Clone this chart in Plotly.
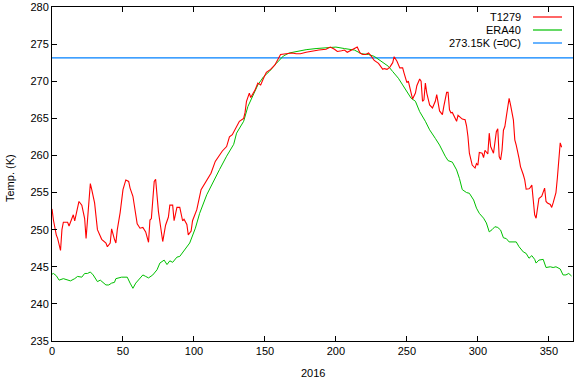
import plotly.graph_objects as go

# T1279 series (day of year, temperature K)
t1279_day = [0, 1, 3, 4, 6, 7, 8, 11, 12, 15, 16, 19, 21, 23, 24, 25, 27, 28, 30, 32, 35, 38, 39, 41, 42, 44, 45, 46, 48, 50,
             52, 54, 55, 57, 59, 60, 62, 64, 66, 68, 69, 70, 72, 73, 75, 76, 78, 80, 82, 83, 85, 86, 88, 90, 92, 93, 95, 96, 98, 99,
             102, 105, 109, 112, 115, 118, 120, 123, 125, 127, 129, 132, 135, 136, 137, 139, 140, 143, 145, 147, 149, 151, 154, 157, 159, 161, 165, 169, 172, 175,
             179, 184, 188, 193, 196, 199, 201, 204, 206, 208, 211, 213, 215, 217, 219, 221, 223, 225, 227, 230, 231, 233, 234, 236, 238, 240, 241, 243, 245, 247,
             248, 250, 251, 253, 254, 256, 257, 259, 260, 261, 262, 263, 264, 266, 268, 270, 271, 273, 275, 276, 278, 279, 280, 281, 282, 285, 286, 289, 291, 292,
             293, 294, 296, 298, 299, 300, 301, 303, 304, 305, 307, 308, 309, 311, 312, 313, 314, 315, 316, 317, 318, 319, 320, 321, 322, 323, 325, 326, 327, 329,
             330, 332, 333, 334, 336, 337, 338, 339, 340, 341, 342, 343, 345, 346, 347, 348, 349, 351, 352, 353, 355, 356, 357, 358, 359]
t1279_temp = [252.8, 251.3, 249.3, 248.8, 247.2, 250.0, 251.0, 251.0, 250.5, 252.0, 251.2, 253.8, 253.3, 251.5, 248.8, 251.7, 256.2, 255.4, 253.6, 250.0, 248.7, 248.2, 247.7, 248.2, 250.1, 248.7, 248.2, 250.0, 252.3, 255.4,
              256.7, 256.5, 255.6, 254.5, 252.2, 250.8, 250.2, 250.3, 249.7, 248.3, 251.3, 251.5, 256.5, 256.8, 252.4, 251.2, 248.4, 250.6, 251.7, 253.3, 253.3, 251.2, 253.0, 253.0, 251.2, 251.4, 250.7, 249.3, 249.8, 251.2,
              252.7, 255.4, 256.7, 257.6, 259.2, 260.1, 260.6, 261.2, 262.5, 262.8, 263.5, 264.6, 265.0, 265.8, 267.3, 268.4, 267.8, 268.8, 269.75, 269.5, 270.4, 271.2, 271.6, 272.2, 272.9, 273.6, 273.7, 273.8, 273.7, 273.7,
              273.9, 274.1, 274.2, 274.3, 274.6, 274.3, 274.0, 274.1, 274.2, 273.9, 274.2, 274.5, 274.6, 273.8, 273.6, 273.6, 273.8, 273.35, 272.8, 272.4, 272.1, 271.6, 271.7, 271.6, 271.9, 272.5, 273.3, 272.7, 271.8, 271.8,
              271.1, 269.8, 270.0, 268.6, 267.6, 268.4, 269.4, 270.3, 270.0, 267.3, 267.5, 269.75, 268.4, 266.8, 266.4, 267.3, 268.2, 266.0, 265.5, 266.6, 268.5, 268.5, 266.15, 265.75, 265.8, 264.6, 265.4, 264.9, 264.8, 264.0,
              262.55, 260.3, 258.7, 258.3, 258.9, 258.7, 260.4, 260.3, 259.7, 260.7, 260.2, 263.0, 261.2, 260.3, 261.7, 263.2, 263.6, 259.85, 259.4, 260.7, 263.4, 263.9, 265.2, 266.8, 267.7, 266.8, 264.8, 262.1, 261.4, 259.6,
              258.5, 257.4, 256.7, 255.45, 255.5, 255.7, 256.0, 254.0, 252.0, 251.55, 253.1, 254.2, 254.5, 255.1, 255.6, 253.8, 253.6, 253.4, 253.0, 253.6, 255.0, 257.0, 260.0, 261.7, 261.1]

# ERA40 series
era40_day = [0, 1, 3, 5, 8, 10, 13, 16, 18, 21, 23, 25, 27, 29, 32, 34, 36, 38, 40, 42, 44, 45, 49, 53, 55, 57, 59, 62, 64, 66,
             68, 71, 74, 76, 79, 81, 83, 85, 88, 90, 94, 97, 101, 104, 109, 113, 118, 123, 125, 128, 130, 135, 138, 142, 145, 149, 153, 158, 163, 167,
             172, 179, 186, 193, 200, 206, 213, 218, 223, 227, 232, 237, 240, 244, 247, 251, 253, 256, 259, 263, 266, 270, 273, 277, 279, 282, 285, 287, 289, 292,
             294, 297, 299, 301, 304, 306, 308, 310, 312, 314, 316, 318, 320, 322, 327, 329, 332, 334, 336, 338, 340, 341, 343, 346, 348, 351, 353, 355, 358, 360,
             362, 364, 366]
era40_temp = [244.0, 244.1, 243.8, 243.2, 243.4, 243.3, 243.1, 243.4, 243.7, 243.6, 244.1, 244.1, 244.3, 243.9, 243.0, 243.2, 242.9, 242.55, 242.55, 242.8, 242.9, 243.4, 243.6, 243.6, 242.8, 242.1, 242.8, 243.4, 243.9, 243.7,
              243.5, 243.9, 244.6, 245.5, 245.9, 245.3, 245.8, 245.6, 246.3, 246.4, 247.5, 248.2, 250.2, 252.2, 254.7, 256.3, 258.1, 259.9, 260.6, 261.5, 263.0, 264.6, 266.6, 268.2, 269.5, 270.6, 271.3, 272.4, 273.4, 273.8,
              274.0, 274.25, 274.4, 274.5, 274.6, 274.4, 274.2, 273.7, 273.6, 273.35, 272.7, 272.0, 271.3, 270.4, 269.5, 268.4, 267.7, 267.3, 265.9, 264.6, 263.45, 262.3, 261.4, 259.9, 259.3, 259.1, 258.05, 256.9, 255.4, 255.0,
              254.9, 254.0, 252.9, 252.2, 251.55, 250.9, 249.7, 250.0, 250.4, 250.3, 249.95, 248.9, 248.8, 248.35, 248.35, 247.7, 247.0, 246.8, 246.15, 246.5, 246.0, 245.5, 245.9, 246.0, 244.9, 245.0, 244.9, 245.0, 244.7, 243.9,
              243.9, 244.1, 243.75]

freeze_day = [0, 367]
freeze_temp = [273.15, 273.15]

x_ticks = [0, 50, 100, 150, 200, 250, 300, 350]
y_ticks = [235, 240, 245, 250, 255, 260, 265, 270, 275, 280]

RED = "#ff0000"
GREEN = "#00c000"
BLUE = "#0080ff"
FONT = "Liberation Sans"

W, H = 577, 380
ML, MR, MT, MB = 52, 4, 7, 39
PW, PH = W - ML - MR, H - MT - MB

fig = go.Figure()
fig.add_trace(go.Scatter(x=freeze_day, y=freeze_temp, mode="lines", line=dict(color=BLUE, width=1.2), name="273.15K (=0C)"))
fig.add_trace(go.Scatter(x=era40_day, y=era40_temp, mode="lines", line=dict(color=GREEN, width=1), name="ERA40"))
fig.add_trace(go.Scatter(x=t1279_day, y=t1279_temp, mode="lines", line=dict(color=RED, width=1.1), name="T1279"))

axis_common = dict(
    showgrid=False, zeroline=False, showline=True, linecolor="black", linewidth=1,
    mirror="allticks", ticks="inside", ticklen=5, tickcolor="black", tickwidth=1,
    tickfont=dict(family=FONT, size=11, color="black"), automargin=False,
)
fig.update_xaxes(range=[0, 367], tickvals=x_ticks, ticktext=[str(v) for v in x_ticks], **axis_common)
fig.update_yaxes(range=[235, 280], tickvals=y_ticks, ticktext=[str(v) for v in y_ticks], **axis_common)

# axis titles
fig.add_annotation(xref="paper", yref="paper", x=0.5, y=-(373 - (H - MB)) / PH, text="2016", showarrow=False,
                   xanchor="center", yanchor="middle", font=dict(family=FONT, size=11, color="black"))
fig.add_annotation(xref="paper", yref="paper", x=-(ML - 10) / PW, y=1 - (178 - MT) / PH, text="Temp. (K)", showarrow=False,
                   textangle=-90, xanchor="center", yanchor="middle", font=dict(family=FONT, size=11, color="black"))

# gnuplot-style legend: right-aligned text with line sample on its right
legend_items = [("T1279", RED), ("ERA40", GREEN), ("273.15K (=0C)", BLUE)]
for i, (label, color) in enumerate(legend_items):
    yy = 1 - (10 + 13 * i) / PH
    fig.add_annotation(xref="paper", yref="paper", x=(523 - ML) / PW, y=yy, text=label, showarrow=False,
                       xanchor="right", yanchor="middle", font=dict(family=FONT, size=11, color="black"))
    fig.add_shape(type="line", xref="paper", yref="paper", x0=(533 - ML) / PW, x1=(562 - ML) / PW,
                  y0=yy, y1=yy, line=dict(color=color, width=1.2))

fig.update_layout(
    width=W, height=H, showlegend=False,
    margin=dict(l=ML, r=MR, t=MT, b=MB, autoexpand=False),
    plot_bgcolor="white", paper_bgcolor="white",
    font=dict(family=FONT, size=11, color="black"),
)
fig.write_html("out.html", config={"displayModeBar": False},
               post_script="document.body.style.margin='0';document.body.style.overflow='hidden';")
